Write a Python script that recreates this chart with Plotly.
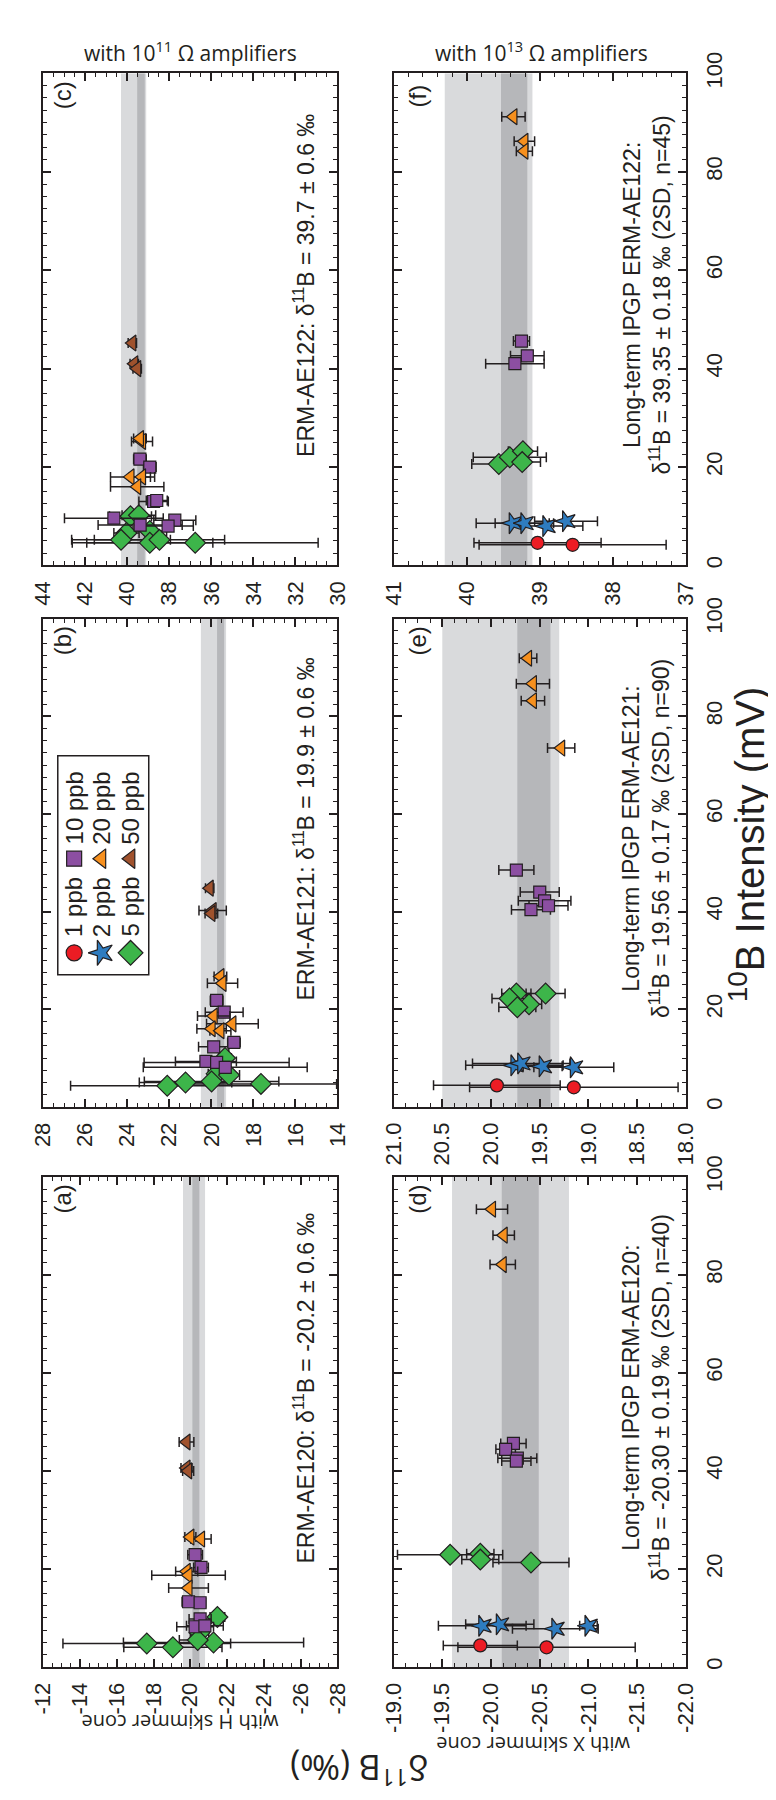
import plotly.graph_objects as go

W, H = 776, 1800
INK = "#231f20"
ARIAL = "Liberation Sans, Arial, sans-serif"
MYRIAD = "Open Sans, sans-serif"

# ---------------- data ----------------
# concentration categories
ppb_levels = [1, 2, 5, 10, 20, 50]
ppb_names = ["1 ppb", "2 ppb", "5 ppb", "10 ppb", "20 ppb", "50 ppb"]

# (a) ERM-AE120, H cone, 1e11 amplifiers
a_ppb = [5, 5, 5, 5, 5, 5, 10, 10, 10, 10, 10, 10, 10, 20, 20, 20, 20, 20, 50, 50, 50]
a_int = [10.2, 7.0, 4.8, 4.0, 5.0, 5.5, 22.9, 20.3, 13.3, 13.1, 9.8, 8.2, 8.4, 26.5, 26.1, 19.5, 18.7, 16.1, 45.9, 40.6, 40.0]
a_d11B = [-21.47, -20.5, -17.63, -19.05, -21.26, -20.4, -20.26, -20.58, -19.9, -20.53, -20.53, -20.26, -20.79,
          -20.0, -20.58, -19.8, -19.9, -19.9, -19.79, -19.79, -19.88]
a_err = [0.4, 0.5, 4.56, 2.67, 4.9, 1.0, 0.4, 0.4, 0.35, 0.3, 0.6, 1.0, 1.0, 0.3, 0.55, 0.6, 2.0, 1.08, 0.4, 0.3, 0.3]

# (b) ERM-AE121, H cone, 1e11 amplifiers
b_ppb = [5, 5, 5, 5, 5, 5, 5, 10, 10, 10, 10, 10, 10, 10, 20, 20, 20, 20, 20, 20, 50, 50, 50]
b_int = [10.0, 6.8, 6.5, 4.3, 5.0, 5.2, 4.7, 21.8, 19.4, 13.2, 12.3, 9.3, 9.1, 8.1, 26.7, 25.3, 18.6, 17.0, 16.0, 15.6, 44.8, 40.2, 39.6]
b_d11B = [19.35, 19.75, 19.16, 22.1, 21.23, 19.99, 17.64, 19.75, 19.39, 18.93, 19.89, 20.26, 19.75, 19.34,
          19.57, 19.47, 19.89, 19.0, 19.99, 19.57, 20.08, 19.94, 20.0]
b_err = [0.3, 0.4, 0.5, 4.6, 2.2, 3.2, 3.6, 0.3, 0.9, 0.3, 0.72, 1.45, 3.45, 3.9, 0.3, 0.72, 0.77, 1.23, 0.7, 0.5, 0.2, 0.65, 0.3]

# (c) ERM-AE122, H cone, 1e11 amplifiers
c_ppb = [5, 5, 5, 5, 5, 5, 5, 5, 10, 10, 10, 10, 10, 10, 10, 10, 20, 20, 20, 20, 20, 50, 50, 50]
c_int = [10.0, 10.2, 6.6, 7.0, 5.2, 4.6, 4.6, 5.2, 21.6, 20.0, 13.0, 13.2, 9.6, 9.2, 8.2, 8.0,
         25.2, 25.8, 18.0, 18.0, 16.0, 45.2, 41.0, 40.0]
c_d11B = [39.85, 39.45, 40.04, 38.93, 40.3, 36.77, 38.93, 38.47, 39.4, 38.93, 38.75, 38.6, 40.64, 37.74, 39.39, 38.06,
          39.3, 39.4, 39.85, 39.3, 39.53, 39.76, 39.67, 39.53]
c_err = [1.0, 0.8, 0.6, 0.8, 2.35, 5.85, 3.0, 3.1, 0.3, 0.3, 0.7, 0.5, 2.35, 1.0, 2.0, 1.2,
         0.5, 0.3, 0.95, 0.6, 1.27, 0.2, 0.2, 0.2]

# (d) ERM-AE120, X cone, 1e13 amplifiers
d_ppb = [1, 1, 2, 2, 2, 2, 5, 5, 5, 5, 10, 10, 10, 10, 20, 20, 20]
d_int = [4.4, 4.0, 8.4, 8.7, 7.8, 8.4, 22.9, 23.1, 21.9, 21.3, 45.6, 44.4, 42.6, 42.0, 93.4, 88.1, 82.1]
d_d11B = [-19.89, -20.57, -19.91, -20.09, -20.66, -21.0, -19.58, -19.89, -19.89, -20.41,
          -20.23, -20.15, -20.27, -20.26, -20.01, -20.13, -20.12]
d_err = [0.38, 0.91, 0.45, 0.35, 0.44, 0.09, 0.54, 0.14, 0.19, 0.39, 0.13, 0.1, 0.2, 0.15, 0.16, 0.11, 0.13]

# (e) ERM-AE121, X cone, 1e13 amplifiers
e_ppb = [1, 1, 2, 2, 2, 2, 5, 5, 5, 5, 5, 10, 10, 10, 10, 10, 20, 20, 20, 20]
e_int = [4.4, 4.0, 8.5, 8.9, 8.3, 8.1, 23.2, 23.2, 22.2, 21.0, 20.4, 48.5, 44.0, 42.2, 41.2, 40.4, 91.9, 86.7, 83.2, 73.5]
e_d11B = [19.94, 19.15, 19.76, 19.69, 19.47, 19.15, 19.44, 19.74, 19.81, 19.61, 19.73,
          19.74, 19.5, 19.45, 19.41, 19.59, 19.62, 19.57, 19.57, 19.28]
e_err = [0.65, 1.07, 0.5, 0.5, 0.2, 0.41, 0.2, 0.15, 0.18, 0.13, 0.19, 0.18, 0.2, 0.27, 0.2, 0.2, 0.09, 0.17, 0.12, 0.14]

# (f) ERM-AE122, X cone, 1e13 amplifiers
f_ppb = [1, 1, 2, 2, 2, 2, 5, 5, 5, 5, 10, 10, 10, 20, 20, 20]
f_int = [4.6, 4.2, 8.6, 8.6, 8.0, 9.0, 20.6, 22.0, 23.2, 21.0, 45.6, 42.6, 41.0, 91.2, 86.2, 84.2]
f_d11B = [39.03, 38.55, 39.37, 39.21, 38.91, 38.64, 39.56, 39.41, 39.23, 39.24, 39.25, 39.17, 39.34, 39.36, 39.21, 39.21]
f_err = [0.87, 1.28, 0.5, 0.4, 0.5, 0.43, 0.37, 0.5, 0.2, 0.25, 0.11, 0.23, 0.4, 0.16, 0.14, 0.11]

# reference values: certified (± uncertainty) and long-term IPGP (± 2SD)
cert_AE120, cert_AE120_u = -20.2, 0.6
cert_AE121, cert_AE121_u = 19.9, 0.6
cert_AE122, cert_AE122_u = 39.7, 0.6
lt_AE120, lt_AE120_2sd = -20.30, 0.19
lt_AE121, lt_AE121_2sd = 19.56, 0.17
lt_AE122, lt_AE122_2sd = 39.35, 0.18

# axis ticks
int_ticks = [0, 20, 40, 60, 80, 100]
a_ticks = [-12, -14, -16, -18, -20, -22, -24, -26, -28]
b_ticks = [28, 26, 24, 22, 20, 18, 16, 14]
c_ticks = [44, 42, 40, 38, 36, 34, 32, 30]
d_ticks = [-19.0, -19.5, -20.0, -20.5, -21.0, -21.5, -22.0]
e_ticks = [21.0, 20.5, 20.0, 19.5, 19.0, 18.5, 18.0]
f_ticks = [41, 40, 39, 38, 37]

# ---------------- styles ----------------
MARK = {
    1: dict(symbol="circle", color="#ec1c24", size=13, angle=0),
    2: dict(symbol="star", color="#2e7cc0", size=16, angle=-90),
    5: dict(symbol="diamond", color="#3db54a", size=16, angle=0),
    10: dict(symbol="square", color="#8c4fa2", size=12, angle=0),
    20: dict(symbol="triangle-left", color="#f7901e", size=14, angle=0),
    50: dict(symbol="triangle-left", color="#a0522d", size=14, angle=0),
}
DRAW_ORDER = [5, 10, 20, 50, 1, 2]

LIGHT = "#d9dadc"
DARK = "#b6b7ba"

def px_x(v):
    return v / W

def px_y(v):
    return 1 - v / H

COL_L = [px_x(23), px_x(327)]
COL_R = [px_x(385), px_x(687)]
ROW_1 = [px_y(543), px_y(44)]
ROW_2 = [px_y(1092), px_y(597)]
ROW_3 = [px_y(1660), px_y(1163)]

def fmt(v, dec):
    return f"{v:.{dec}f}"  # ASCII hyphen-minus as in the reference

panels = [
    dict(lab="(c)", xd=COL_L, yd=ROW_1, rng=[44, 30], tv=c_ticks, dec=0, minor=0.5, right=False,
         data=(c_ppb, c_int, c_d11B, c_err), cert=(cert_AE122, cert_AE122_u), lt=(lt_AE122, lt_AE122_2sd),
         note="ERM-AE122: δ<sup>11</sup>B = 39.7 ± 0.6 ‰", longterm=False),
    dict(lab="(f)", xd=COL_R, yd=ROW_1, rng=[41, 37], tv=f_ticks, dec=0, minor=0.2, right=True,
         data=(f_ppb, f_int, f_d11B, f_err), cert=(cert_AE122, cert_AE122_u), lt=(lt_AE122, lt_AE122_2sd),
         note="Long-term IPGP ERM-AE122:<br>δ<sup>11</sup>B = 39.35 ± 0.18 ‰ (2SD, n=45)", longterm=True),
    dict(lab="(b)", xd=COL_L, yd=ROW_2, rng=[28, 14], tv=b_ticks, dec=0, minor=0.5, right=False,
         data=(b_ppb, b_int, b_d11B, b_err), cert=(cert_AE121, cert_AE121_u), lt=(lt_AE121, lt_AE121_2sd),
         note="ERM-AE121: δ<sup>11</sup>B = 19.9 ± 0.6 ‰", longterm=False),
    dict(lab="(e)", xd=COL_R, yd=ROW_2, rng=[21, 18], tv=e_ticks, dec=1, minor=0.125, right=True,
         data=(e_ppb, e_int, e_d11B, e_err), cert=(cert_AE121, cert_AE121_u), lt=(lt_AE121, lt_AE121_2sd),
         note="Long-term IPGP ERM-AE121:<br>δ<sup>11</sup>B = 19.56 ± 0.17 ‰ (2SD, n=90)", longterm=True),
    dict(lab="(a)", xd=COL_L, yd=ROW_3, rng=[-12, -28], tv=a_ticks, dec=0, minor=0.5, right=False,
         data=(a_ppb, a_int, a_d11B, a_err), cert=(cert_AE120, cert_AE120_u), lt=(lt_AE120, lt_AE120_2sd),
         note="ERM-AE120: δ<sup>11</sup>B = -20.2 ± 0.6 ‰", longterm=False),
    dict(lab="(d)", xd=COL_R, yd=ROW_3, rng=[-19, -22], tv=d_ticks, dec=1, minor=0.125, right=True,
         data=(d_ppb, d_int, d_d11B, d_err), cert=(cert_AE120, cert_AE120_u), lt=(lt_AE120, lt_AE120_2sd),
         note="Long-term IPGP ERM-AE120:<br>δ<sup>11</sup>B = -20.30 ± 0.19 ‰ (2SD, n=40)", longterm=True),
]

fig = go.Figure()
layout = dict(width=W, height=H, margin=dict(l=0, r=0, t=0, b=0), paper_bgcolor="white",
              plot_bgcolor="white", showlegend=False)
shapes = []
annotations = []

for i, p in enumerate(panels, start=1):
    sfx = "" if i == 1 else str(i)
    xr, yr = "x" + sfx, "y" + sfx
    layout["xaxis" + sfx] = dict(
        domain=p["xd"], anchor=yr, range=p["rng"], tickmode="array", tickvals=p["tv"],
        ticktext=[fmt(v, p["dec"]) for v in p["tv"]], tickangle=-90,
        ticks="inside", ticklen=8, tickwidth=1.5, tickcolor=INK,
        showline=True, linewidth=2, linecolor=INK, mirror="allticks",
        showgrid=False, zeroline=False, ticklabelstandoff=5,
        tickfont=dict(family=ARIAL, size=22, color=INK),
        minor=dict(tickmode="linear", tick0=p["tv"][0], dtick=p["minor"], ticks="inside",
                   ticklen=4, tickwidth=1, tickcolor=INK, showgrid=False),
    )
    layout["yaxis" + sfx] = dict(
        domain=p["yd"], anchor=xr, range=[0, 100], tickmode="array", tickvals=int_ticks,
        ticktext=[str(v) for v in int_ticks], side="right", showticklabels=p["right"], tickangle=-90,
        ticks="inside", ticklen=8, tickwidth=1.5, tickcolor=INK,
        showline=True, linewidth=2, linecolor=INK, mirror="allticks",
        showgrid=False, zeroline=False, ticklabelstandoff=8,
        tickfont=dict(family=ARIAL, size=22, color=INK),
        minor=dict(tickmode="linear", tick0=0, dtick=2.5, ticks="inside",
                   ticklen=4, tickwidth=1, tickcolor=INK, showgrid=False),
    )
    # reference bands
    c, u = p["cert"]
    m, s = p["lt"]
    shapes.append(dict(type="rect", xref=xr, yref=yr + " domain", x0=c - u, x1=c + u, y0=0, y1=1,
                       fillcolor=LIGHT, line=dict(width=0), layer="below"))
    shapes.append(dict(type="rect", xref=xr, yref=yr + " domain", x0=m - s, x1=m + s, y0=0, y1=1,
                       fillcolor=DARK, line=dict(width=0), layer="below"))
    # data
    ppb, inten, dval, err = p["data"]
    for lvl in DRAW_ORDER:
        idx = [k for k, v in enumerate(ppb) if v == lvl]
        if not idx:
            continue
        st = MARK[lvl]
        fig.add_trace(go.Scatter(
            x=[dval[k] for k in idx], y=[inten[k] for k in idx], xaxis=xr, yaxis=yr,
            mode="markers", name=ppb_names[ppb_levels.index(lvl)],
            error_x=dict(type="data", array=[err[k] for k in idx], color=INK, thickness=1.5, width=5),
            marker=dict(symbol=st["symbol"], color=st["color"], size=st["size"], angle=st["angle"],
                        line=dict(color=INK, width=1.2)),
        ))
    # panel label
    annotations.append(dict(text=p["lab"], xref=xr + " domain", yref=yr + " domain",
                            x=0.066 if not p["right"] else 0.083, y=0.955, showarrow=False,
                            textangle=-90, xanchor="center", yanchor="middle",
                            font=dict(family=ARIAL, size=24, color=INK)))
    # note
    if p["longterm"]:
        annotations.append(dict(text=p["note"], xref=xr + " domain", yref=yr + " domain",
                                x=0.866, y=0.55, showarrow=False, textangle=-90, align="center",
                                xanchor="center", yanchor="middle",
                                font=dict(family=ARIAL, size=23, color=INK)))
    else:
        annotations.append(dict(text=p["note"], xref=xr + " domain", yref=yr + " domain",
                                x=0.886, y=0.57, showarrow=False, textangle=-90,
                                xanchor="center", yanchor="middle",
                                font=dict(family=ARIAL, size=23, color=INK)))

# ---------------- manual (rotated) legend inside panel (b) ----------------
LEG_X = [0.18, 0.48, 0.80]
LEG_Y_LOW, LEG_Y_HIGH = 0.10, 0.53
LEG_TY_LOW, LEG_TY_HIGH = 0.31, 0.76
layout["xaxis7"] = dict(domain=[px_x(38), px_x(132)], anchor="y7", range=[0, 1], visible=False, fixedrange=True)
layout["yaxis7"] = dict(domain=[px_y(958), px_y(736)], anchor="x7", range=[0, 1], visible=False, fixedrange=True)
shapes.append(dict(type="rect", xref="x7 domain", yref="y7 domain", x0=0, x1=1, y0=0, y1=1,
                   line=dict(color=INK, width=1.5), fillcolor="rgba(0,0,0,0)", layer="above"))
for j, lvl in enumerate(ppb_levels):
    col = j % 3
    high = j >= 3
    st = MARK[lvl]
    fig.add_trace(go.Scatter(
        x=[LEG_X[col]], y=[LEG_Y_HIGH if high else LEG_Y_LOW], xaxis="x7", yaxis="y7", mode="markers",
        marker=dict(symbol=st["symbol"], color=st["color"], size=st["size"] + 3, angle=st["angle"],
                    line=dict(color=INK, width=1.2)), hoverinfo="skip"))
    annotations.append(dict(text=ppb_names[j], xref="x7", yref="y7", x=LEG_X[col],
                            y=LEG_TY_HIGH if high else LEG_TY_LOW, showarrow=False, textangle=-90,
                            xanchor="center", yanchor="middle",
                            font=dict(family=ARIAL, size=24, color=INK)))

# ---------------- titles and axis labels ----------------
annotations += [
    dict(text="with 10<sup>11</sup> Ω amplifiers", xref="paper", yref="paper", x=px_x(175), y=px_y(22),
         showarrow=False, xanchor="center", yanchor="middle", font=dict(family=MYRIAD, size=21, color=INK)),
    dict(text="with 10<sup>13</sup> Ω amplifiers", xref="paper", yref="paper", x=px_x(538), y=px_y(22),
         showarrow=False, xanchor="center", yanchor="middle", font=dict(family=MYRIAD, size=21, color=INK)),
    dict(text="<sup>10</sup>B Intensity (mV)", xref="paper", yref="paper", x=px_x(750), y=px_y(826),
         showarrow=False, textangle=-90, xanchor="center", yanchor="middle",
         font=dict(family=ARIAL, size=40, color=INK)),
    dict(text="with H skimmer cone", xref="paper", yref="paper", x=px_x(164), y=px_y(1717),
         showarrow=False, textangle=180, xanchor="center", yanchor="middle",
         font=dict(family=MYRIAD, size=20, color=INK)),
    dict(text="with X skimmer cone", xref="paper", yref="paper", x=px_x(529), y=px_y(1738),
         showarrow=False, textangle=180, xanchor="center", yanchor="middle",
         font=dict(family=MYRIAD, size=20, color=INK)),
    dict(text="δ<sup>11</sup>B (‰)", xref="paper", yref="paper", x=px_x(350), y=px_y(1764),
         showarrow=False, textangle=180, xanchor="center", yanchor="middle",
         font=dict(family=MYRIAD, size=34, color=INK)),
]

layout["shapes"] = shapes
layout["annotations"] = annotations
fig.update_layout(**layout)
fig.write_html("out.html")
